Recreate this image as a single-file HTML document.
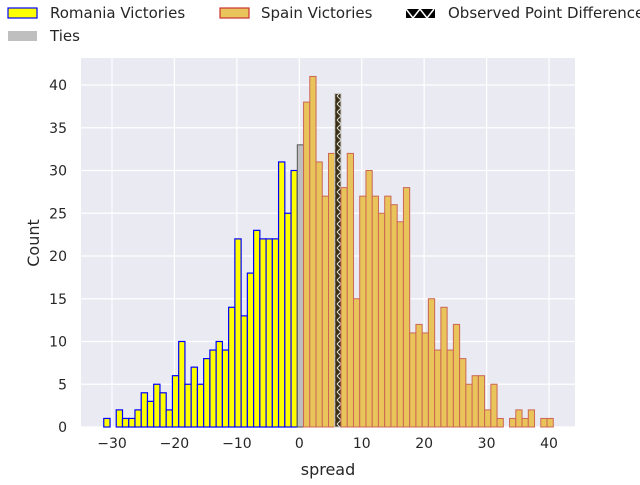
<!DOCTYPE html>
<html><head><meta charset="utf-8"><style>
html,body{margin:0;padding:0;background:#fff}
text{font-family:"DejaVu Sans","Liberation Sans",sans-serif;fill:#262626}
</style></head><body>
<svg id="s" width="640" height="480" xmlns="http://www.w3.org/2000/svg">
<defs>
<pattern id="hat" width="6" height="8" patternUnits="userSpaceOnUse">
<rect width="6" height="8" fill="#3a2e14"/>
<path d="M1 0 L5 4 L1 8" stroke="#ddd" stroke-width="1" fill="none"/>
</pattern>
</defs>
<rect x="81" y="58" width="494" height="369" fill="#eaeaf2"/>
<g id="grid" stroke="#fff" stroke-width="1.2"></g>
<g id="bars"></g>
<g id="ticks" font-size="14"></g>
<text x="328" y="475" font-size="16" text-anchor="middle">spread</text>
<text transform="translate(39,243) rotate(-90)" font-size="16" text-anchor="middle">Count</text>
<!-- legend -->
<rect x="8" y="8" width="29" height="10" fill="#ffff00" stroke="#0000ff" stroke-width="1.2"/>
<text x="50" y="18" font-size="15">Romania Victories</text>
<rect x="220" y="8" width="29" height="10" fill="#e8c45a" stroke="#cc3333" stroke-width="1.2"/>
<text x="261" y="18" font-size="15">Spain Victories</text>
<rect x="406" y="9" width="29" height="9" fill="#000"/>
<path d="M406 9 L413 18 L420 9 L427 18 L434 9" stroke="#fff" stroke-width="1.5" fill="none"/>
<text x="448" y="18" font-size="15">Observed Point Difference</text>
<rect x="8" y="31" width="29" height="10" fill="#bfbfbf"/>
<text x="50" y="41" font-size="15">Ties</text>
</svg>
<script>
var NS="http://www.w3.org/2000/svg";
function el(p,t,a){var e=document.createElementNS(NS,t);for(var k in a)e.setAttribute(k,a[k]);p.appendChild(e);return e;}
var X=function(v){return 299.3+6.243*v;}, Y=function(c){return 427-8.55*c;};
var g=document.getElementById('grid'),b=document.getElementById('bars'),t=document.getElementById('ticks');
for(var v=-30;v<=40;v+=10){el(g,'line',{x1:X(v),x2:X(v),y1:58,y2:427});var tx=el(t,'text',{x:X(v),y:448,'text-anchor':'middle'});tx.textContent=(v<0?'\u2212'+(-v):v);}
for(var c=0;c<=40;c+=5){el(g,'line',{x1:81,x2:575,y1:Y(c),y2:Y(c)});var ty=el(t,'text',{x:67,y:Y(c)+5,'text-anchor':'end'});ty.textContent=c;}
var L=297.3,W=6.243;
var rom=[1,0,2,1,1,2,4,3,5,4,2,6,10,5,7,5,8,9,10,9,14,22,13,18,23,22,22,22,31,25,30];
rom.forEach(function(h,i){var k=-31+i;if(h)el(b,'rect',{x:L+W*k,y:Y(h),width:W,height:8.55*h,fill:'#ffff00',stroke:'#0000ff','stroke-width':1.2});});
el(b,'rect',{x:L,y:Y(33),width:W,height:8.55*33,fill:'#bfbfbf',stroke:'#555','stroke-width':1});
var sp=[38,41,31,27,32,39,28,32,15,27,30,27,25,27,26,24,28,11,12,11,15,9,14,9,12,8,5,6,6,2,5,1,0,1,2,1,2,0,1,1];
sp.forEach(function(h,i){var k=1+i;if(!h)return;
 if(k==6)el(b,'rect',{x:L+W*k,y:Y(h),width:W,height:8.55*h,fill:'url(#hat)',stroke:'#ccc','stroke-width':1});
 else el(b,'rect',{x:L+W*k,y:Y(h),width:W,height:8.55*h,fill:'#e8c45a',stroke:'#cc6655','stroke-width':1});});
</script>
</body></html>
